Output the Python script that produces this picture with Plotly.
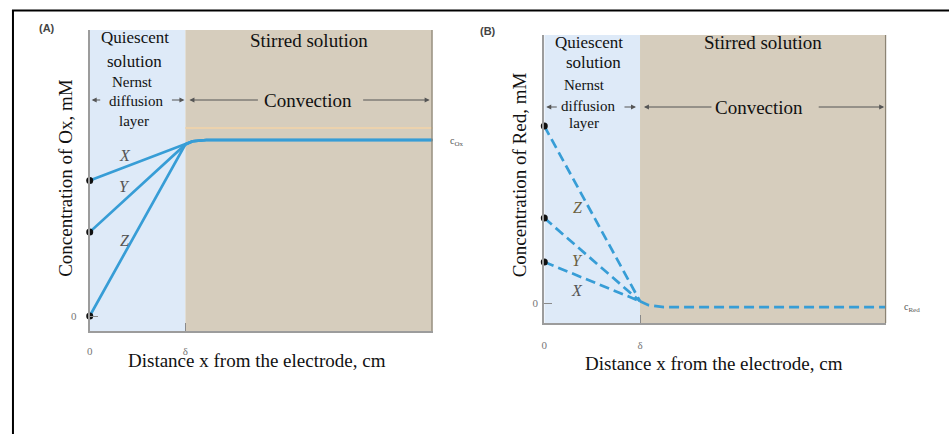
import plotly.graph_objects as go

# ---------------- data ----------------
delta_A = 2.79
delta_B = 2.80
dist_A = [0, 2.79, 3.0, 3.4, 10]
ox_X = [0.77, 0.975, 0.993, 1.0, 1.0]
ox_Y = [0.477, 0.975, 0.993, 1.0, 1.0]
ox_Z = [0.0, 0.975, 0.993, 1.0, 1.0]

# Red: diffusion-layer part of each curve, then the shared bulk line
dist_B = [0, 2.80]
red_Z = [1.0, 0.01]
red_Y = [0.48, 0.01]
red_X = [0.232, 0.01]
dist_B_bulk = [2.80, 3.05, 3.5, 10]
red_bulk = [0.01, -0.012, -0.023, -0.023]

x_tick_vals_A = [0, delta_A]
x_tick_vals_B = [0, delta_B]
x_tick_text = ["0", "δ"]
y_tick_vals = [0]
y_tick_text = ["0"]

# ---------------- layout helpers ----------------
W, H = 949, 434
def fx(p):
    return p / W
def fy(p):
    return 1 - p / H

SERIF = "Liberation Serif, Times New Roman, serif"
LINE = "#379dd6"
BLUE_BG = "#deeaf8"
TAN_BG = "#d6cdbd"

fig = go.Figure()

# Panel A curves
for ys in (ox_X, ox_Y, ox_Z):
    fig.add_trace(go.Scatter(x=dist_A, y=ys, mode="lines", xaxis="x", yaxis="y",
                             line=dict(color=LINE, width=2.7), hoverinfo="skip",
                             showlegend=False))
fig.add_trace(go.Scatter(x=[dist_A[0]] * 3, y=[ox_X[0], ox_Y[0], ox_Z[0]], mode="markers",
                         xaxis="x", yaxis="y", marker=dict(color="#111", size=7),
                         cliponaxis=False, showlegend=False, hoverinfo="skip"))

# Panel B curves
dash_style = dict(color=LINE, width=2.7, dash="10px,5px")
for ys in (red_Z, red_Y, red_X):
    fig.add_trace(go.Scatter(x=dist_B, y=ys, mode="lines", xaxis="x2", yaxis="y2",
                             line=dash_style, hoverinfo="skip", showlegend=False))
fig.add_trace(go.Scatter(x=dist_B_bulk, y=red_bulk, mode="lines", xaxis="x2", yaxis="y2",
                         line=dash_style, hoverinfo="skip", showlegend=False))
fig.add_trace(go.Scatter(x=[dist_B[0]] * 3, y=[red_Z[0], red_Y[0], red_X[0]], mode="markers",
                         xaxis="x2", yaxis="y2", marker=dict(color="#111", size=7),
                         cliponaxis=False, showlegend=False, hoverinfo="skip"))

axis_common = dict(showgrid=False, zeroline=False, showline=True, linecolor="#9c9c9c",
                   linewidth=2, ticks="inside", ticklen=8, tickcolor="#8a8a8a",
                   tickfont=dict(family=SERIF, size=11, color="#777"), fixedrange=True)

fig.update_layout(
    width=W, height=H, margin=dict(l=0, r=0, t=0, b=0),
    paper_bgcolor="white", plot_bgcolor="white", showlegend=False,
    xaxis=dict(domain=[fx(87), fx(431)], range=[0, 10], anchor="y",
               tickvals=x_tick_vals_A, ticktext=x_tick_text, ticklabelstandoff=9, **axis_common),
    yaxis=dict(domain=[fy(331), fy(30)], range=[-15 / 176, 286 / 176], anchor="x",
               tickvals=y_tick_vals, ticktext=y_tick_text, ticklabelstandoff=9, **axis_common),
    xaxis2=dict(domain=[fx(543), fx(886)], range=[0, 10], anchor="y2",
                tickvals=x_tick_vals_B, ticktext=x_tick_text, ticklabelstandoff=11, **axis_common),
    yaxis2=dict(domain=[fy(323), fy(35)], range=[-20 / 177, 268 / 177], anchor="x2",
                tickvals=y_tick_vals, ticktext=y_tick_text, ticklabelstandoff=2, **axis_common),
)

shapes = []
for xa, ya, d in (("x", "y", delta_A), ("x2", "y2", delta_B)):
    shapes.append(dict(type="rect", xref=xa, yref=ya + " domain", x0=0, x1=d, y0=0, y1=1,
                       fillcolor=BLUE_BG, line=dict(width=0), layer="below"))
    shapes.append(dict(type="rect", xref=xa, yref=ya + " domain", x0=d, x1=10, y0=0, y1=1,
                       fillcolor=TAN_BG, line=dict(width=0), layer="below"))
    shapes.append(dict(type="line", xref=xa, yref=ya + " domain", x0=10, x1=10, y0=0, y1=1,
                       line=dict(color="#8c8474", width=2.5)))
# faint artifact line in panel A
shapes.append(dict(type="line", xref="x", yref="y", x0=delta_A, x1=10, y0=1.068, y1=1.068,
                   line=dict(color="#ecd2ad", width=2), layer="below"))
# black frame
shapes.append(dict(type="line", xref="paper", yref="paper", x0=fx(9), x1=1, y0=fy(10.5), y1=fy(10.5),
                   line=dict(color="black", width=2)))
shapes.append(dict(type="line", xref="paper", yref="paper", x0=fx(10), x1=fx(10), y0=0, y1=fy(10),
                   line=dict(color="black", width=2)))
fig.update_layout(shapes=shapes)

# diffusion / convection arrows (head px, tail px, row px)
arrow_rows = [
    (89, 99, 100), (182, 168, 100), (187, 257, 100), (428, 360, 100),
    (545, 557, 107), (635, 622, 107), (643, 712, 107), (884, 817, 107),
]

anns = []
def ann(text, xp, yp, size, color="#111", family=SERIF, angle=0, xanchor="center"):
    anns.append(dict(text=text, x=fx(xp), y=fy(yp), xref="paper", yref="paper",
                     showarrow=False, xanchor=xanchor, yanchor="middle", textangle=angle,
                     font=dict(family=family, size=size, color=color)))

for xh, xt, yp in arrow_rows:
    anns.append(dict(text=" ", x=fx(xh), y=fy(yp), xref="paper", yref="paper",
                     ax=xt - xh, ay=0, axref="pixel", ayref="pixel", showarrow=True,
                     arrowhead=2, arrowsize=1, arrowwidth=1, arrowcolor="#555",
                     font=dict(size=1)))

SANS = "Liberation Sans, Arial, sans-serif"
# Panel A text
ann("<b>(A)</b>", 44, 28, 11, color="#444", family=SANS)
ann("Quiescent", 132, 38, 17)
ann("solution", 132, 61, 17)
ann("Nernst", 130, 82, 15)
ann("diffusion", 133, 101, 15)
ann("layer", 131, 121, 15)
ann("Stirred solution", 307, 41, 19)
ann("Convection", 306, 100, 19)
ann("<i>X</i>", 122, 155, 16, color="#555")
ann("<i>Y</i>", 122, 187, 16, color="#555")
ann("<i>Z</i>", 122, 240, 16, color="#555")
ann("c<sub>Ox</sub>", 446, 141, 10, color="#555", xanchor="left")
ann("Concentration of Ox, mM", 62, 178, 19, angle=-90)
ann("Distance x from the electrode, cm", 255, 360, 19)

# Panel B text
ann("<b>(B)</b>", 487, 31, 11, color="#444", family=SANS)
ann("Quiescent", 588, 42, 17)
ann("solution", 592, 63, 17)
ann("Nernst", 583, 85, 15)
ann("diffusion", 587, 106, 15)
ann("layer", 583, 123, 15)
ann("Stirred solution", 762, 43, 19)
ann("Convection", 758, 107, 19)
ann("<i>Z</i>", 577, 208, 16, color="#6b6040")
ann("<i>Y</i>", 576, 260, 16, color="#6b6040")
ann("<i>X</i>", 576, 290, 16, color="#555")
ann("c<sub>Red</sub>", 902, 307, 10, color="#555", xanchor="left")
ann("Concentration of Red, mM", 518, 175, 19, angle=-90)
ann("Distance x from the electrode, cm", 713, 363, 19)

fig.update_layout(annotations=anns)
fig.write_html("out.html")
